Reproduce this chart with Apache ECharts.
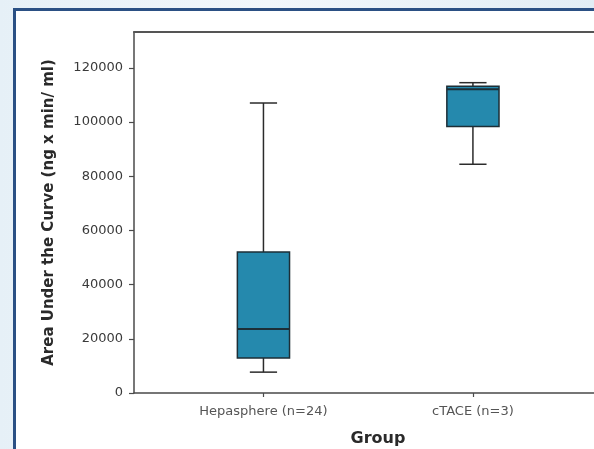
<!DOCTYPE html>
<html><head><meta charset="utf-8">
<script src="https://cdn.jsdelivr.net/npm/echarts@6/dist/echarts.min.js"></script>
<style>
html,body{margin:0;padding:0;width:594px;height:449px;overflow:hidden;background:linear-gradient(to right,#e6f0f7,#f2f7fb 45%,#e2edf5);}
#frame{position:absolute;left:13px;top:8px;right:0;bottom:0;background:#fff;border-left:3px solid #2b5084;border-top:3px solid #2b5084;}
#chart{position:absolute;left:0;top:0;width:594px;height:449px;}
</style></head><body><div id="frame"></div><div id="chart"></div>
<script>
const categories = ['Hepasphere (n=24)', 'cTACE (n=3)'];
const whiskerLow = [7700, 84400];
const q1 = [12900, 98300];
const median = [23600, 112100];
const q3 = [52000, 113200];
const whiskerHigh = [107000, 114500];
const yTicks = [0, 20000, 40000, 60000, 80000, 100000, 120000];

const boxData = categories.map((c, i) => [i, whiskerLow[i], q1[i], median[i], q3[i], whiskerHigh[i]]);

const chart = echarts.init(document.getElementById('chart'), null, {renderer: 'canvas'});
const fontFam = 'DejaVu Sans, sans-serif';
const axisColor = '#4a4a4a';
const xMin = -0.618, xMax = 1.578;
chart.setOption({
  backgroundColor: 'transparent',
  animation: false,
  grid: {left: 134, top: 32, right: 0, bottom: 56, show: false, outerBoundsMode: 'none', containLabel: false},
  xAxis: [{
    type: 'value', min: xMin, max: xMax, position: 'bottom',
    splitLine: {show: false},
    axisLine: {show: true, onZero: false, lineStyle: {color: axisColor, width: 1.5}},
    axisTick: {show: true, customValues: [0, 1], length: 4, lineStyle: {color: axisColor, width: 1.2}},
    axisLabel: {customValues: [0, 1], formatter: v => categories[Math.round(v)], margin: 12, color: '#555', fontSize: 13, fontFamily: fontFam},
    name: 'Group', nameLocation: 'middle', nameGap: 38,
    nameTextStyle: {fontWeight: 'bold', fontSize: 16, color: '#2a2a2a', fontFamily: fontFam, padding: [0, 0, 0, 28]}
  }, {
    type: 'value', min: xMin, max: xMax, position: 'top',
    splitLine: {show: false},
    axisLine: {show: true, onZero: false, lineStyle: {color: '#555', width: 2}},
    axisTick: {show: false}, axisLabel: {show: false}
  }],
  yAxis: {
    type: 'value', min: 0, max: 133200,
    splitLine: {show: false},
    axisLine: {show: true, onZero: false, lineStyle: {color: axisColor, width: 1.5}},
    axisTick: {show: true, customValues: yTicks, length: 5, lineStyle: {color: axisColor, width: 1.2}},
    axisLabel: {customValues: yTicks, formatter: v => String(v), margin: 11, color: '#3a3a3a', fontSize: 13, fontFamily: fontFam},
    name: 'Area Under the Curve (ng x min/ ml)', nameLocation: 'middle', nameGap: 77,
    nameTextStyle: {fontWeight: 'bold', fontSize: 15, color: '#2a2a2a', fontFamily: fontFam}
  },
  series: [{
    type: 'custom',
    xAxisIndex: 0,
    data: boxData,
    renderItem: function (params, api) {
      const x = api.value(0);
      const pLow = api.coord([x, api.value(1)]);
      const pQ1 = api.coord([x, api.value(2)]);
      const pMed = api.coord([x, api.value(3)]);
      const pQ3 = api.coord([x, api.value(4)]);
      const pHigh = api.coord([x, api.value(5)]);
      const boxW = api.size([0.249, 0])[0];
      const capW = api.size([0.13, 0])[0];
      const cx = pMed[0];
      const lineStyle = {stroke: '#2b2b2b', lineWidth: 1.5};
      return {
        type: 'group',
        children: [
          {type: 'line', shape: {x1: cx, y1: pQ3[1], x2: cx, y2: pHigh[1]}, style: lineStyle},
          {type: 'line', shape: {x1: cx, y1: pLow[1], x2: cx, y2: pQ1[1]}, style: lineStyle},
          {type: 'line', shape: {x1: cx - capW / 2, y1: pHigh[1], x2: cx + capW / 2, y2: pHigh[1]}, style: lineStyle},
          {type: 'line', shape: {x1: cx - capW / 2, y1: pLow[1], x2: cx + capW / 2, y2: pLow[1]}, style: lineStyle},
          {type: 'rect', shape: {x: cx - boxW / 2, y: pQ3[1], width: boxW, height: pQ1[1] - pQ3[1]}, style: {fill: '#2589ad', stroke: '#1d2e36', lineWidth: 1.5}},
          {type: 'line', shape: {x1: cx - boxW / 2, y1: pMed[1], x2: cx + boxW / 2, y2: pMed[1]}, style: {stroke: '#1d2e36', lineWidth: 2}}
        ]
      };
    }
  }]
});
</script>
</body></html>
